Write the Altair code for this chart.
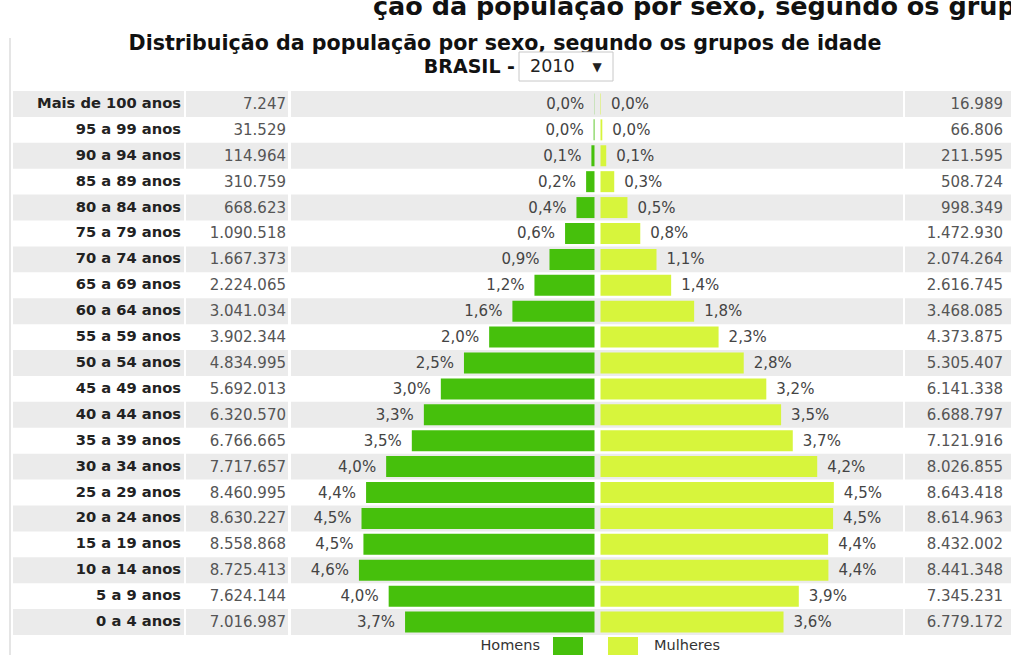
import altair as alt
import pandas as pd

# ---------------- data ----------------
ages = ["Mais de 100 anos", "95 a 99 anos", "90 a 94 anos", "85 a 89 anos",
        "80 a 84 anos", "75 a 79 anos", "70 a 74 anos", "65 a 69 anos",
        "60 a 64 anos", "55 a 59 anos", "50 a 54 anos", "45 a 49 anos",
        "40 a 44 anos", "35 a 39 anos", "30 a 34 anos", "25 a 29 anos",
        "20 a 24 anos", "15 a 19 anos", "10 a 14 anos", "5 a 9 anos", "0 a 4 anos"]
homens = [7247, 31529, 114964, 310759, 668623, 1090518, 1667373, 2224065,
          3041034, 3902344, 4834995, 5692013, 6320570, 6766665, 7717657,
          8460995, 8630227, 8558868, 8725413, 7624144, 7016987]
mulheres = [16989, 66806, 211595, 508724, 998349, 1472930, 2074264, 2616745,
            3468085, 4373875, 5305407, 6141338, 6688797, 7121916, 8026855,
            8643418, 8614963, 8432002, 8441348, 7345231, 6779172]
pct_homens = [0.0, 0.0, 0.1, 0.2, 0.4, 0.6, 0.9, 1.2, 1.6, 2.0, 2.5, 3.0, 3.3,
              3.5, 4.0, 4.4, 4.5, 4.5, 4.6, 4.0, 3.7]
pct_mulheres = [0.0, 0.0, 0.1, 0.3, 0.5, 0.8, 1.1, 1.4, 1.8, 2.3, 2.8, 3.2, 3.5,
                3.7, 4.2, 4.5, 4.5, 4.4, 4.4, 3.9, 3.6]
titulo = "Distribuição da população por sexo, segundo os grupos de idade"
titulo_topo = "ção da população por sexo, segundo os grupos de idade"
local = "BRASIL -"
ano = "2010"

# ---------------- build table ----------------
total = sum(homens) + sum(mulheres)
fmt_n = lambda v: f"{v:,}".replace(",", ".")
fmt_p = lambda p: f"{p:.1f}".replace(".", ",") + "%"
df = pd.DataFrame({
    "age": ages,
    "idx": list(range(len(ages))),
    "h_neg": [-v / total * 100 for v in homens],
    "m_pos": [v / total * 100 for v in mulheres],
    "zero": [0.0] * len(ages),
    "h_txt": [fmt_n(v) for v in homens],
    "m_txt": [fmt_n(v) for v in mulheres],
    "hp_txt": [fmt_p(p) for p in pct_homens],
    "mp_txt": [fmt_p(p) for p in pct_mulheres],
})

GREEN = "#46c00c"
YELLOW = "#d7f53c"
GRAY = "#ebebeb"
FONT = "DejaVu Sans"

W, H = 1011, 544
PX = 51.5          # pixels per percentage point
CENTER = 597.5
xs = alt.Scale(domain=[-CENTER / PX, (W - CENTER) / PX], range=[0, W], nice=False, zero=False)
Y = alt.Y("age:N", sort=ages, scale=alt.Scale(paddingInner=0, paddingOuter=0), axis=None)

base = alt.Chart(df)
striped = base.transform_filter("datum.idx % 2 == 0")

bgs = [
    striped.mark_rect(color=GRAY).encode(y=Y, x=alt.value(x0), x2=alt.value(x1))
    for x0, x1 in [(13, 184), (186, 288), (291, 903), (905, 1011)]
]

men = base.mark_bar(color=GREEN, height=21, xOffset=-3, x2Offset=-3).encode(
    x=alt.X("h_neg:Q", scale=xs, axis=None), x2="zero:Q", y=Y)
women = base.mark_bar(color=YELLOW, height=21, xOffset=3, x2Offset=3).encode(
    x=alt.X("zero:Q", scale=xs, axis=None), x2="m_pos:Q", y=Y)

men_pct = base.mark_text(align="right", dx=-13, font=FONT, fontSize=15, color="#444").encode(
    x=alt.X("h_neg:Q", scale=xs, axis=None), y=Y, text="hp_txt:N")
women_pct = base.mark_text(align="left", dx=13, font=FONT, fontSize=15, color="#444").encode(
    x=alt.X("m_pos:Q", scale=xs, axis=None), y=Y, text="mp_txt:N")

age_lbl = base.mark_text(align="right", font=FONT, fontSize=14.7, fontWeight="bold", color="#222").encode(
    x=alt.value(181), y=Y, text="age:N")
men_n = base.mark_text(align="right", font=FONT, fontSize=15, color="#555").encode(
    x=alt.value(286), y=Y, text="h_txt:N")
women_n = base.mark_text(align="right", font=FONT, fontSize=15, color="#555").encode(
    x=alt.value(1003), y=Y, text="m_txt:N")

one = alt.Chart(pd.DataFrame({"k": [0]}))

border = one.mark_rule(color="#dddddd", strokeWidth=1.5).encode(
    x=alt.value(10), y=alt.value(-53), y2=alt.value(H + 20))

top_txt = one.mark_text(align="left", baseline="alphabetic", font=FONT, fontSize=25.5,
                        fontWeight="bold", color="#111", text=titulo_topo).encode(
    x=alt.value(373), y=alt.value(-76))
title_txt = one.mark_text(align="center", baseline="middle", font=FONT, fontSize=20.6,
                          fontWeight="bold", color="#111", text=titulo).encode(
    x=alt.value(505), y=alt.value(-47))
local_txt = one.mark_text(align="right", baseline="middle", font=FONT, fontSize=19,
                          fontWeight="bold", color="#111", text=local).encode(
    x=alt.value(515), y=alt.value(-24))
box = one.mark_rect(fill="white", stroke="#c8c8c8", strokeWidth=1).encode(
    x=alt.value(519), x2=alt.value(613), y=alt.value(-39), y2=alt.value(-10))
ano_txt = one.mark_text(align="left", baseline="middle", font=FONT, fontSize=17.5,
                        color="#222", text=ano).encode(x=alt.value(530), y=alt.value(-24))
arrow = one.mark_text(align="center", baseline="middle", font=FONT, fontSize=12,
                      color="#222", text="▼").encode(x=alt.value(597), y=alt.value(-24))

leg_h = one.mark_rect(color=GREEN).encode(
    x=alt.value(553), x2=alt.value(583), y=alt.value(H + 2), y2=alt.value(H + 20))
leg_m = one.mark_rect(color=YELLOW).encode(
    x=alt.value(608), x2=alt.value(638), y=alt.value(H + 2), y2=alt.value(H + 20))
leg_h_txt = one.mark_text(align="right", baseline="middle", font=FONT, fontSize=14.5,
                          color="#333", text="Homens").encode(x=alt.value(540), y=alt.value(H + 11))
leg_m_txt = one.mark_text(align="left", baseline="middle", font=FONT, fontSize=14.5,
                          color="#333", text="Mulheres").encode(x=alt.value(654), y=alt.value(H + 11))

chart = alt.layer(
    *bgs, men, women, men_pct, women_pct, age_lbl, men_n, women_n,
    border, top_txt, title_txt, local_txt, box, ano_txt, arrow,
    leg_h, leg_m, leg_h_txt, leg_m_txt,
).properties(
    width=W, height=H,
    autosize=alt.AutoSizeParams(type="none"),
    padding={"left": 0, "top": 91, "right": 0, "bottom": 20},
    background="white",
).configure_view(stroke=None)

chart.save("out.html", embed_options={"renderer": "svg", "actions": False})
